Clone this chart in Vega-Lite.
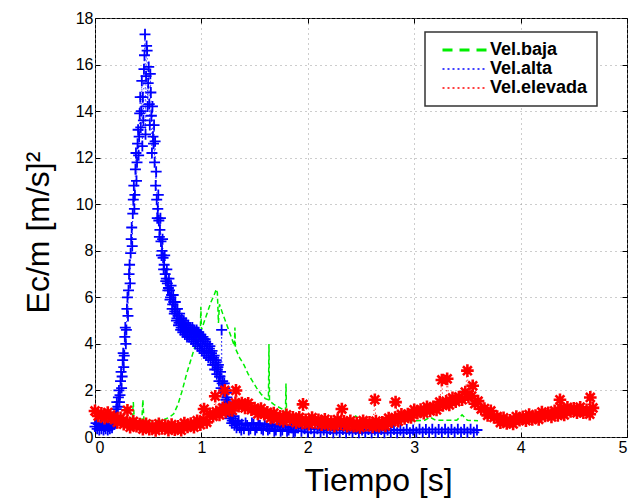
{
  "$schema": "https://vega.github.io/schema/vega-lite/v6.json",
  "width": 532,
  "height": 419,
  "autosize": {"type": "none"},
  "padding": {"left": 95, "top": 18, "right": 12, "bottom": 62},
  "background": "white",
  "config": {
    "font": "Liberation Sans",
    "view": {"stroke": "#000", "strokeWidth": 1},
    "axis": {
      "labelFont": "Liberation Sans", "labelFontSize": 16, "labelColor": "#000",
      "titleFont": "Liberation Sans", "titleFontSize": 32, "titleFontWeight": "normal", "titleColor": "#000",
      "domain": false, "tickColor": "#000", "tickSize": -5, "labelPadding": 7,
      "gridColor": "#9a9a9a", "gridDash": [1, 4], "gridWidth": 1
    }
  },
  "datasets": {
    "green": [
      {"t":0.00,"e":0.5},{"t":0.05,"e":0.5},{"t":0.10,"e":0.55},{"t":0.15,"e":0.55},{"t":0.20,"e":0.6},{"t":0.25,"e":0.6},{"t":0.30,"e":0.65},{"t":0.35,"e":0.7},{"t":0.36,"e":1.5},{"t":0.37,"e":0.7},{"t":0.40,"e":0.7},{"t":0.44,"e":0.7},{"t":0.45,"e":1.6},{"t":0.46,"e":0.7},{"t":0.50,"e":0.7},{"t":0.55,"e":0.7},{"t":0.60,"e":0.72},{"t":0.65,"e":0.75},{"t":0.70,"e":0.85},{"t":0.74,"e":1.0},{"t":0.78,"e":1.4},{"t":0.82,"e":2.0},{"t":0.86,"e":2.7},{"t":0.90,"e":3.3},{"t":0.94,"e":3.9},{"t":0.97,"e":4.3},{"t":0.99,"e":4.5},{"t":0.995,"e":5.6},{"t":1.00,"e":4.6},{"t":1.03,"e":5.0},{"t":1.06,"e":5.4},{"t":1.09,"e":5.8},{"t":1.12,"e":6.1},{"t":1.14,"e":6.35},{"t":1.15,"e":6.2},{"t":1.16,"e":4.9},{"t":1.17,"e":5.7},{"t":1.20,"e":5.3},{"t":1.24,"e":4.8},{"t":1.28,"e":4.3},{"t":1.31,"e":3.9},{"t":1.315,"e":4.7},{"t":1.32,"e":3.8},{"t":1.36,"e":3.4},{"t":1.40,"e":3.1},{"t":1.44,"e":2.7},{"t":1.48,"e":2.4},{"t":1.52,"e":2.1},{"t":1.56,"e":1.85},{"t":1.60,"e":1.65},{"t":1.63,"e":1.6},{"t":1.635,"e":4.0},{"t":1.64,"e":1.55},{"t":1.68,"e":1.4},{"t":1.72,"e":1.3},{"t":1.76,"e":1.2},{"t":1.79,"e":1.1},{"t":1.795,"e":2.3},{"t":1.80,"e":1.05},{"t":1.84,"e":1.0},{"t":1.88,"e":0.9},{"t":1.92,"e":0.85},{"t":1.96,"e":0.8},{"t":2.00,"e":0.78},{"t":2.10,"e":0.75},{"t":2.20,"e":0.72},{"t":2.30,"e":0.7},{"t":2.40,"e":0.7},{"t":2.45,"e":0.9},{"t":2.50,"e":0.7},{"t":2.60,"e":0.68},{"t":2.70,"e":0.68},{"t":2.80,"e":0.7},{"t":2.90,"e":0.7},{"t":3.00,"e":0.7},{"t":3.10,"e":0.72},{"t":3.15,"e":0.85},{"t":3.20,"e":0.72},{"t":3.30,"e":0.72},{"t":3.40,"e":0.72},{"t":3.45,"e":0.95},{"t":3.50,"e":0.72},{"t":3.60,"e":0.7}
    ],
    "blue": [
      {"t":0.00,"e":0.45},{"t":0.01,"e":0.6},{"t":0.02,"e":0.35},{"t":0.03,"e":0.55},{"t":0.04,"e":0.3},{"t":0.05,"e":0.5},{"t":0.06,"e":0.35},{"t":0.07,"e":0.55},{"t":0.08,"e":0.3},{"t":0.09,"e":0.45},{"t":0.10,"e":0.35},{"t":0.11,"e":0.5},{"t":0.12,"e":0.3},{"t":0.13,"e":0.45},{"t":0.14,"e":0.35},{"t":0.15,"e":0.55},{"t":0.16,"e":0.4},{"t":0.17,"e":0.7},{"t":0.18,"e":0.55},{"t":0.19,"e":0.9},{"t":0.195,"e":0.6},{"t":0.20,"e":1.2},{"t":0.205,"e":1.5},{"t":0.21,"e":0.9},{"t":0.215,"e":1.3},{"t":0.22,"e":1.7},{"t":0.225,"e":2.0},{"t":0.23,"e":1.5},{"t":0.235,"e":1.8},{"t":0.24,"e":2.4},{"t":0.245,"e":2.8},{"t":0.25,"e":2.1},{"t":0.255,"e":2.6},{"t":0.26,"e":3.3},{"t":0.265,"e":3.6},{"t":0.27,"e":3.0},{"t":0.275,"e":3.5},{"t":0.28,"e":4.3},{"t":0.285,"e":4.7},{"t":0.29,"e":4.0},{"t":0.295,"e":4.6},{"t":0.30,"e":5.5},{"t":0.305,"e":6.0},{"t":0.31,"e":5.2},{"t":0.315,"e":6.3},{"t":0.32,"e":7.0},{"t":0.325,"e":7.4},{"t":0.33,"e":6.6},{"t":0.335,"e":7.9},{"t":0.34,"e":8.5},{"t":0.345,"e":9.0},{"t":0.35,"e":8.2},{"t":0.355,"e":9.6},{"t":0.36,"e":10.2},{"t":0.365,"e":10.8},{"t":0.37,"e":9.8},{"t":0.375,"e":10.4},{"t":0.38,"e":11.5},{"t":0.385,"e":12.2},{"t":0.39,"e":11.0},{"t":0.395,"e":11.8},{"t":0.40,"e":12.6},{"t":0.405,"e":13.2},{"t":0.41,"e":12.1},{"t":0.415,"e":12.9},{"t":0.42,"e":13.9},{"t":0.425,"e":14.6},{"t":0.43,"e":13.3},{"t":0.435,"e":14.0},{"t":0.44,"e":15.3},{"t":0.445,"e":12.5},{"t":0.45,"e":14.6},{"t":0.455,"e":13.6},{"t":0.46,"e":15.8},{"t":0.465,"e":16.4},{"t":0.47,"e":17.3},{"t":0.475,"e":13.0},{"t":0.48,"e":15.5},{"t":0.485,"e":16.8},{"t":0.49,"e":16.6},{"t":0.495,"e":14.2},{"t":0.50,"e":15.2},{"t":0.505,"e":15.9},{"t":0.51,"e":14.3},{"t":0.515,"e":13.4},{"t":0.52,"e":15.6},{"t":0.525,"e":14.8},{"t":0.53,"e":13.8},{"t":0.535,"e":12.2},{"t":0.54,"e":14.2},{"t":0.545,"e":12.9},{"t":0.55,"e":12.6},{"t":0.555,"e":13.4},{"t":0.56,"e":11.8},{"t":0.565,"e":12.7},{"t":0.57,"e":10.8},{"t":0.575,"e":11.4},{"t":0.58,"e":10.2},{"t":0.585,"e":9.4},{"t":0.59,"e":9.8},{"t":0.595,"e":10.4},{"t":0.60,"e":9.3},{"t":0.605,"e":8.6},{"t":0.61,"e":8.9},{"t":0.615,"e":9.4},{"t":0.62,"e":8.4},{"t":0.625,"e":7.8},{"t":0.63,"e":8.0},{"t":0.635,"e":8.5},{"t":0.64,"e":7.7},{"t":0.645,"e":7.2},{"t":0.65,"e":7.4},{"t":0.655,"e":7.8},{"t":0.66,"e":7.0},{"t":0.665,"e":6.7},{"t":0.67,"e":6.8},{"t":0.675,"e":7.2},{"t":0.68,"e":6.6},{"t":0.685,"e":6.3},{"t":0.69,"e":6.4},{"t":0.695,"e":6.8},{"t":0.70,"e":6.3},{"t":0.705,"e":5.9},{"t":0.71,"e":6.0},{"t":0.715,"e":6.5},{"t":0.72,"e":6.1},{"t":0.725,"e":5.5},{"t":0.73,"e":5.7},{"t":0.735,"e":6.1},{"t":0.74,"e":5.8},{"t":0.745,"e":5.3},{"t":0.75,"e":5.4},{"t":0.755,"e":5.8},{"t":0.76,"e":5.5},{"t":0.765,"e":5.0},{"t":0.77,"e":5.1},{"t":0.775,"e":5.5},{"t":0.78,"e":5.2},{"t":0.785,"e":4.8},{"t":0.79,"e":4.9},{"t":0.795,"e":5.3},{"t":0.80,"e":5.0},{"t":0.805,"e":4.6},{"t":0.81,"e":4.7},{"t":0.815,"e":5.1},{"t":0.82,"e":4.9},{"t":0.825,"e":4.5},{"t":0.83,"e":4.6},{"t":0.835,"e":5.0},{"t":0.84,"e":4.8},{"t":0.845,"e":4.4},{"t":0.85,"e":4.5},{"t":0.855,"e":4.9},{"t":0.86,"e":4.7},{"t":0.865,"e":4.3},{"t":0.87,"e":4.4},{"t":0.875,"e":4.8},{"t":0.88,"e":4.7},{"t":0.885,"e":4.3},{"t":0.89,"e":4.4},{"t":0.895,"e":4.7},{"t":0.90,"e":4.6},{"t":0.905,"e":4.2},{"t":0.91,"e":4.3},{"t":0.915,"e":4.7},{"t":0.92,"e":4.6},{"t":0.925,"e":4.1},{"t":0.93,"e":4.3},{"t":0.935,"e":4.6},{"t":0.94,"e":4.5},{"t":0.945,"e":4.0},{"t":0.95,"e":4.2},{"t":0.955,"e":4.6},{"t":0.96,"e":4.5},{"t":0.965,"e":3.9},{"t":0.97,"e":4.1},{"t":0.975,"e":4.5},{"t":0.98,"e":4.4},{"t":0.985,"e":3.8},{"t":0.99,"e":4.0},{"t":0.995,"e":4.4},{"t":1.00,"e":4.3},{"t":1.005,"e":3.7},{"t":1.01,"e":3.9},{"t":1.015,"e":4.3},{"t":1.02,"e":4.2},{"t":1.025,"e":3.6},{"t":1.03,"e":3.8},{"t":1.035,"e":4.2},{"t":1.04,"e":4.1},{"t":1.045,"e":3.5},{"t":1.05,"e":3.7},{"t":1.055,"e":4.0},{"t":1.06,"e":4.0},{"t":1.065,"e":3.4},{"t":1.07,"e":3.6},{"t":1.075,"e":3.8},{"t":1.08,"e":3.9},{"t":1.085,"e":3.3},{"t":1.09,"e":3.5},{"t":1.095,"e":3.6},{"t":1.10,"e":3.7},{"t":1.105,"e":3.1},{"t":1.11,"e":3.3},{"t":1.115,"e":3.4},{"t":1.12,"e":3.5},{"t":1.125,"e":2.9},{"t":1.13,"e":3.1},{"t":1.135,"e":3.2},{"t":1.14,"e":3.3},{"t":1.145,"e":2.7},{"t":1.15,"e":2.9},{"t":1.155,"e":3.0},{"t":1.16,"e":3.1},{"t":1.165,"e":2.4},{"t":1.17,"e":2.6},{"t":1.175,"e":2.6},{"t":1.18,"e":2.8},{"t":1.185,"e":2.1},{"t":1.19,"e":4.6},{"t":1.195,"e":2.3},{"t":1.20,"e":2.4},{"t":1.205,"e":1.9},{"t":1.21,"e":2.0},{"t":1.215,"e":2.3},{"t":1.22,"e":2.1},{"t":1.225,"e":1.4},{"t":1.23,"e":1.6},{"t":1.235,"e":1.9},{"t":1.24,"e":1.7},{"t":1.245,"e":1.1},{"t":1.25,"e":1.3},{"t":1.255,"e":1.5},{"t":1.26,"e":1.3},{"t":1.265,"e":0.8},{"t":1.27,"e":0.9},{"t":1.275,"e":1.2},{"t":1.28,"e":1.0},{"t":1.285,"e":0.6},{"t":1.29,"e":0.7},{"t":1.295,"e":0.9},{"t":1.30,"e":0.8},{"t":1.31,"e":0.5},{"t":1.32,"e":0.65},{"t":1.33,"e":0.4},{"t":1.34,"e":0.55},{"t":1.35,"e":0.7},{"t":1.36,"e":0.4},{"t":1.375,"e":0.3},{"t":1.38,"e":0.55},{"t":1.40,"e":0.35},{"t":1.415,"e":0.6},{"t":1.43,"e":0.5},{"t":1.445,"e":0.3},{"t":1.46,"e":0.35},{"t":1.475,"e":0.6},{"t":1.49,"e":0.55},{"t":1.505,"e":0.3},{"t":1.52,"e":0.4},{"t":1.535,"e":0.6},{"t":1.55,"e":0.5},{"t":1.565,"e":0.35},{"t":1.58,"e":0.3},{"t":1.595,"e":0.55},{"t":1.61,"e":0.45},{"t":1.625,"e":0.3},{"t":1.64,"e":0.35},{"t":1.655,"e":0.55},{"t":1.67,"e":0.5},{"t":1.685,"e":0.25},{"t":1.70,"e":0.3},{"t":1.715,"e":0.5},{"t":1.73,"e":0.45},{"t":1.745,"e":0.25},{"t":1.76,"e":0.3},{"t":1.775,"e":0.5},{"t":1.79,"e":0.45},{"t":1.805,"e":0.25},{"t":1.82,"e":0.3},{"t":1.835,"e":0.45},{"t":1.85,"e":0.4},{"t":1.865,"e":0.2},{"t":1.88,"e":0.25},{"t":1.895,"e":0.45},{"t":1.91,"e":0.4},{"t":1.94,"e":0.25},{"t":1.97,"e":0.35},{"t":2.00,"e":0.2},{"t":2.03,"e":0.35},{"t":2.06,"e":0.2},{"t":2.09,"e":0.35},{"t":2.12,"e":0.2},{"t":2.15,"e":0.3},{"t":2.18,"e":0.2},{"t":2.21,"e":0.32},{"t":2.24,"e":0.18},{"t":2.27,"e":0.3},{"t":2.30,"e":0.2},{"t":2.33,"e":0.32},{"t":2.36,"e":0.18},{"t":2.39,"e":0.3},{"t":2.42,"e":0.2},{"t":2.45,"e":0.32},{"t":2.48,"e":0.18},{"t":2.51,"e":0.3},{"t":2.54,"e":0.2},{"t":2.57,"e":0.32},{"t":2.60,"e":0.18},{"t":2.63,"e":0.3},{"t":2.66,"e":0.2},{"t":2.69,"e":0.32},{"t":2.72,"e":0.18},{"t":2.75,"e":0.3},{"t":2.78,"e":0.2},{"t":2.81,"e":0.32},{"t":2.84,"e":0.18},{"t":2.87,"e":0.3},{"t":2.90,"e":0.2},{"t":2.93,"e":0.32},{"t":2.96,"e":0.18},{"t":2.99,"e":0.3},{"t":3.02,"e":0.2},{"t":3.05,"e":0.33},{"t":3.08,"e":0.2},{"t":3.11,"e":0.32},{"t":3.14,"e":0.2},{"t":3.17,"e":0.33},{"t":3.20,"e":0.2},{"t":3.23,"e":0.32},{"t":3.26,"e":0.2},{"t":3.29,"e":0.33},{"t":3.32,"e":0.2},{"t":3.35,"e":0.32},{"t":3.38,"e":0.2},{"t":3.41,"e":0.33},{"t":3.44,"e":0.2},{"t":3.47,"e":0.32},{"t":3.50,"e":0.2},{"t":3.53,"e":0.33},{"t":3.56,"e":0.2},{"t":3.59,"e":0.3}
    ],
    "red": [
      {"t":0.00,"e":1.12},{"t":0.03,"e":0.90},{"t":0.06,"e":1.02},{"t":0.09,"e":0.81},{"t":0.12,"e":1.05},{"t":0.15,"e":0.81},{"t":0.18,"e":0.88},{"t":0.21,"e":0.63},{"t":0.24,"e":0.82},{"t":0.27,"e":0.55},{"t":0.30,"e":0.64},{"t":0.305,"e":1.15},{"t":0.33,"e":0.42},{"t":0.36,"e":0.67},{"t":0.39,"e":0.46},{"t":0.42,"e":0.56},{"t":0.45,"e":0.34},{"t":0.48,"e":0.57},{"t":0.51,"e":0.34},{"t":0.54,"e":0.47},{"t":0.57,"e":0.28},{"t":0.60,"e":0.57},{"t":0.63,"e":0.37},{"t":0.66,"e":0.49},{"t":0.69,"e":0.29},{"t":0.72,"e":0.53},{"t":0.75,"e":0.32},{"t":0.78,"e":0.46},{"t":0.81,"e":0.29},{"t":0.84,"e":0.60},{"t":0.87,"e":0.43},{"t":0.90,"e":0.58},{"t":0.93,"e":0.42},{"t":0.96,"e":0.70},{"t":0.99,"e":0.53},{"t":1.02,"e":0.74},{"t":1.025,"e":1.2},{"t":1.05,"e":0.63},{"t":1.08,"e":1.00},{"t":1.11,"e":0.89},{"t":1.13,"e":1.75},{"t":1.14,"e":1.08},{"t":1.17,"e":0.95},{"t":1.20,"e":1.25},{"t":1.22,"e":2.0},{"t":1.23,"e":1.08},{"t":1.26,"e":1.27},{"t":1.29,"e":1.14},{"t":1.32,"e":1.47},{"t":1.325,"e":2.0},{"t":1.35,"e":1.32},{"t":1.38,"e":1.46},{"t":1.41,"e":1.25},{"t":1.44,"e":1.45},{"t":1.47,"e":1.17},{"t":1.50,"e":1.24},{"t":1.53,"e":0.99},{"t":1.56,"e":1.22},{"t":1.59,"e":0.98},{"t":1.62,"e":1.06},{"t":1.65,"e":0.82},{"t":1.68,"e":1.03},{"t":1.71,"e":0.78},{"t":1.74,"e":0.89},{"t":1.77,"e":0.68},{"t":1.80,"e":0.95},{"t":1.83,"e":0.74},{"t":1.86,"e":0.84},{"t":1.89,"e":0.62},{"t":1.92,"e":0.84},{"t":1.95,"e":0.61},{"t":1.955,"e":1.4},{"t":1.98,"e":0.74},{"t":2.01,"e":0.55},{"t":2.04,"e":0.83},{"t":2.07,"e":0.63},{"t":2.10,"e":0.74},{"t":2.13,"e":0.53},{"t":2.16,"e":0.76},{"t":2.19,"e":0.53},{"t":2.22,"e":0.66},{"t":2.25,"e":0.47},{"t":2.28,"e":0.75},{"t":2.31,"e":0.56},{"t":2.32,"e":1.2},{"t":2.34,"e":0.67},{"t":2.37,"e":0.46},{"t":2.40,"e":0.69},{"t":2.43,"e":0.46},{"t":2.46,"e":0.60},{"t":2.49,"e":0.41},{"t":2.52,"e":0.70},{"t":2.55,"e":0.51},{"t":2.58,"e":0.63},{"t":2.61,"e":0.43},{"t":2.63,"e":1.6},{"t":2.64,"e":0.68},{"t":2.67,"e":0.47},{"t":2.70,"e":0.63},{"t":2.73,"e":0.48},{"t":2.76,"e":0.81},{"t":2.79,"e":0.66},{"t":2.82,"e":0.83},{"t":2.825,"e":1.5},{"t":2.85,"e":0.68},{"t":2.88,"e":0.97},{"t":2.91,"e":0.80},{"t":2.94,"e":0.98},{"t":2.97,"e":0.84},{"t":3.00,"e":1.17},{"t":3.03,"e":1.02},{"t":3.06,"e":1.18},{"t":3.09,"e":1.02},{"t":3.12,"e":1.30},{"t":3.15,"e":1.12},{"t":3.18,"e":1.30},{"t":3.21,"e":1.16},{"t":3.24,"e":1.50},{"t":3.26,"e":2.45},{"t":3.27,"e":1.36},{"t":3.30,"e":1.53},{"t":3.31,"e":2.5},{"t":3.33,"e":1.38},{"t":3.36,"e":1.68},{"t":3.39,"e":1.52},{"t":3.42,"e":1.72},{"t":3.45,"e":1.60},{"t":3.48,"e":1.93},{"t":3.50,"e":2.85},{"t":3.51,"e":1.72},{"t":3.54,"e":1.76},{"t":3.55,"e":2.2},{"t":3.57,"e":1.43},{"t":3.60,"e":1.54},{"t":3.63,"e":1.20},{"t":3.66,"e":1.22},{"t":3.69,"e":0.93},{"t":3.72,"e":1.12},{"t":3.75,"e":0.84},{"t":3.78,"e":0.88},{"t":3.81,"e":0.62},{"t":3.84,"e":0.82},{"t":3.87,"e":0.58},{"t":3.90,"e":0.72},{"t":3.93,"e":0.56},{"t":3.96,"e":0.88},{"t":3.99,"e":0.72},{"t":4.02,"e":0.87},{"t":4.05,"e":0.70},{"t":4.08,"e":0.96},{"t":4.11,"e":0.76},{"t":4.14,"e":0.92},{"t":4.17,"e":0.76},{"t":4.20,"e":1.07},{"t":4.23,"e":0.90},{"t":4.26,"e":1.04},{"t":4.29,"e":0.86},{"t":4.32,"e":1.12},{"t":4.35,"e":0.93},{"t":4.37,"e":1.6},{"t":4.38,"e":1.25},{"t":4.41,"e":0.95},{"t":4.44,"e":1.27},{"t":4.47,"e":1.10},{"t":4.50,"e":1.23},{"t":4.53,"e":1.04},{"t":4.56,"e":1.28},{"t":4.59,"e":1.05},{"t":4.62,"e":1.17},{"t":4.65,"e":0.98},{"t":4.655,"e":1.7},{"t":4.68,"e":1.25}
    ]
  },
  "resolve": {"axis": {"x": "independent", "y": "independent"}},
  "layer": [
    {
      "data": {"name": "green"},
      "mark": {"type": "line", "strokeWidth": 1.5, "strokeDash": [5, 3]},
      "encoding": {
        "x": {"field": "t", "type": "quantitative", "scale": {"domain": [0, 5], "nice": false},
              "axis": {"title": "Tiempo [s]", "values": [0,1,2,3,4,5], "grid": true, "orient": "bottom",
                       "titleX": 283, "titleY": 53, "titleBaseline": "alphabetic", "titleAlign": "center"}},
        "y": {"field": "e", "type": "quantitative", "scale": {"domain": [0, 18], "nice": false},
              "axis": {"title": "Ec/m [m/s]²", "values": [0,2,4,6,8,10,12,14,16,18], "grid": true, "orient": "left",
                       "titleX": -47, "titleY": 214, "titleBaseline": "alphabetic", "titleAlign": "center", "titleAngle": -90}},
        "color": {"datum": "Vel.baja", "type": "nominal",
          "scale": {"domain": ["Vel.baja", "Vel.alta", "Vel.elevada"], "range": ["#00ee00", "#0000ff", "#ff0000"]},
          "legend": {
            "title": null, "orient": "none", "legendX": 330, "legendY": 14,
            "symbolType": "stroke", "symbolSize": 2025, "symbolStrokeWidth": 2, "symbolOffset": 22,
            "labelFont": "Liberation Sans", "labelFontWeight": "bold", "labelFontSize": 18, "labelColor": "#000",
            "strokeColor": "#333", "fillColor": "white", "padding": 9, "rowPadding": 1, "labelOffset": 16,
            "encode": {
              "legend": {"update": {"stroke": {"value": "#333"}, "strokeWidth": {"value": 1.5}, "fill": {"value": "white"}}},
              "symbols": {"update": {
                "strokeDash": {"signal": "datum.value === 'Vel.baja' ? [10, 7] : [2, 3]"},
                "strokeWidth": {"signal": "datum.value === 'Vel.baja' ? 3 : 1.5"}
              }}
            }
          }}
      }
    },
    {
      "data": {"name": "blue"},
      "mark": {"type": "line", "strokeWidth": 1, "strokeDash": [1, 3]},
      "encoding": {
        "x": {"field": "t", "type": "quantitative", "axis": null},
        "y": {"field": "e", "type": "quantitative", "axis": null},
        "color": {"datum": "Vel.alta", "type": "nominal"}
      }
    },
    {
      "data": {"name": "blue"},
      "mark": {"type": "point", "shape": "M-1,0L1,0M0,-1L0,1", "filled": false, "size": 120, "strokeWidth": 1.8, "color": "#0000ff", "opacity": 1},
      "encoding": {
        "x": {"field": "t", "type": "quantitative", "axis": {"orient": "top", "labels": false, "title": null, "grid": false, "values": [0,1,2,3,4,5]}},
        "y": {"field": "e", "type": "quantitative", "axis": {"orient": "right", "labels": false, "title": null, "grid": false, "values": [0,2,4,6,8,10,12,14,16,18]}}
      }
    },
    {
      "data": {"name": "red"},
      "mark": {"type": "line", "strokeWidth": 1, "strokeDash": [1, 3]},
      "encoding": {
        "x": {"field": "t", "type": "quantitative", "axis": null},
        "y": {"field": "e", "type": "quantitative", "axis": null},
        "color": {"datum": "Vel.elevada", "type": "nominal"}
      }
    },
    {
      "data": {"name": "red"},
      "mark": {"type": "point", "shape": "M-1,0L1,0M0,-1L0,1M-0.7,-0.7L0.7,0.7M-0.7,0.7L0.7,-0.7", "filled": false, "size": 160, "strokeWidth": 2.6, "color": "#ff0000", "opacity": 1},
      "encoding": {
        "x": {"field": "t", "type": "quantitative", "axis": null},
        "y": {"field": "e", "type": "quantitative", "axis": null}
      }
    }
  ]
}
